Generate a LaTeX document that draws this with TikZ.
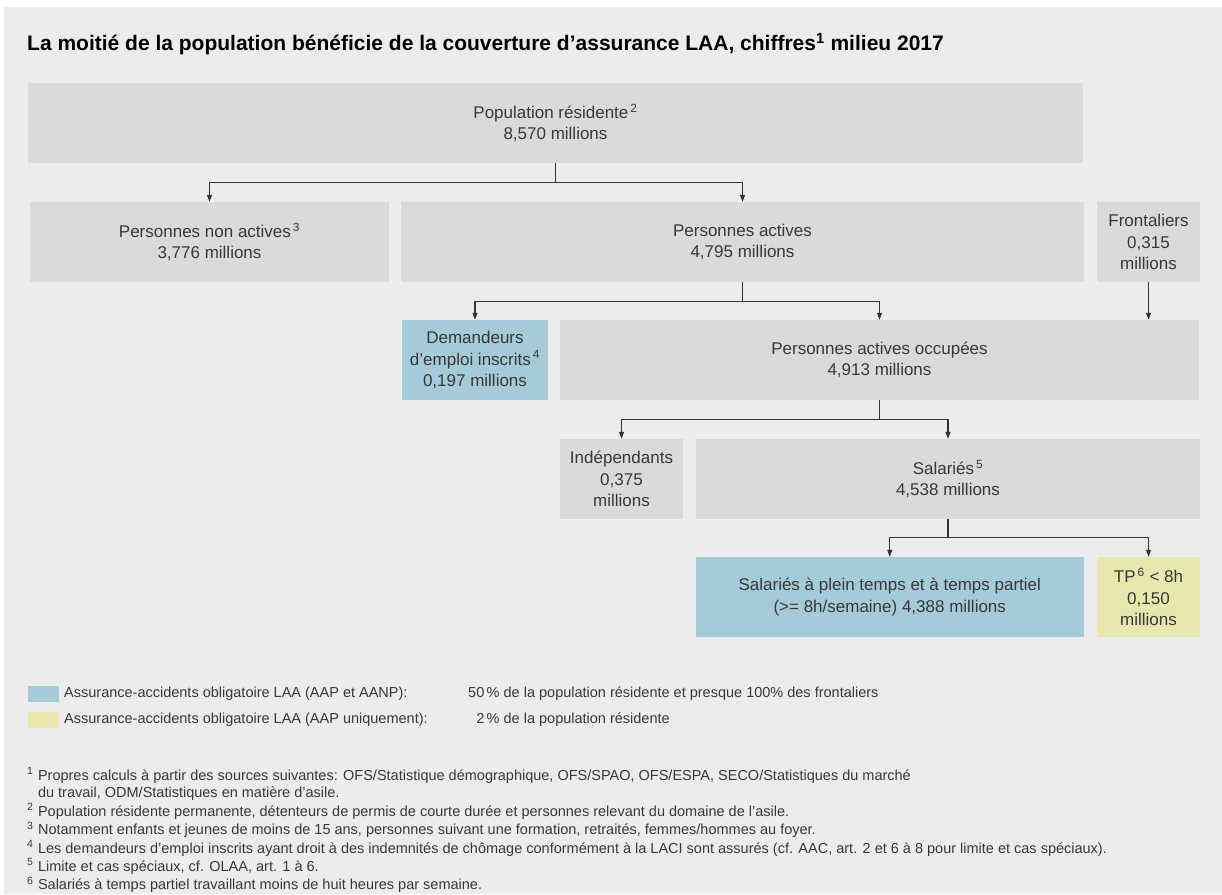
\documentclass[tikz,border=0pt]{standalone}
\usepackage{fontspec}
\setmainfont{Liberation Sans}
\usetikzlibrary{arrows.meta,positioning,calc}

\definecolor{bggrey}{HTML}{ECECEC}
\definecolor{boxgrey}{HTML}{D9DBDA}
\definecolor{boxblue}{HTML}{A5CBD8}
\definecolor{boxyellow}{HTML}{E6E8AE}
\definecolor{txtgrey}{HTML}{383838}
\definecolor{linegrey}{HTML}{333333}

\tikzset{
  box/.style={fill=boxgrey, inner sep=0pt, minimum height=80pt, align=center,
    text=txtgrey, font=\fontsize{17}{21.5}\selectfont},
  bluebox/.style={box, fill=boxblue},
  yellowbox/.style={box, fill=boxyellow},
  stem/.style={draw=linegrey, line width=1.1pt},
  conn/.style={stem, -{Triangle[length=7pt,width=5pt]}},
  legswatch/.style={inner sep=0pt, minimum width=31pt, minimum height=16pt, anchor=west},
  legtext/.style={inner sep=0pt, anchor=west, text=txtgrey, font=\fontsize{14.5}{17}\selectfont},
}
\newcommand{\fnmark}[1]{\textsuperscript{\,#1}}
\newcommand{\fnnum}[1]{\raisebox{0.4em}{\fontsize{10.5}{10.5}\selectfont #1}}

\begin{document}
\begin{tikzpicture}[x=1pt,y=-1pt]
        \useasboundingbox (0,0) rectangle (1222,894);
        \fill[white] (0,0) rectangle (1222,894);
        \fill[bggrey] (4,7) rectangle (1222,894);

        \node[anchor=west, inner sep=0pt, font=\fontsize{21}{25}\selectfont\bfseries] (title) at (27,44)
            {La moitié de la population bénéficie de la couverture d’assurance LAA, chiffres\textsuperscript{1} milieu 2017};

        % boxes
        \node[box, minimum width=1055pt] (pop) at (555.5,123) {Population résidente\fnmark{2}\\8,570 millions};
        \node[box, minimum width=359pt] (nonact) at (209.5,242) {Personnes non actives\fnmark{3}\\3,776 millions};
        \node[box, minimum width=683pt] (act) at (742.5,242) {Personnes actives\\4,795 millions};
        \node[box, minimum width=103pt] (front) at (1148.5,242) {Frontaliers\\0,315\\millions};
        \node[bluebox, minimum width=146pt] (dem) at (475,360) {Demandeurs\\d’emploi inscrits\fnmark{4}\\0,197 millions};
        \node[box, minimum width=639pt] (occ) at (879.5,360) {Personnes actives occupées\\4,913 millions};
        \node[box, minimum width=123pt] (indep) at (621.5,479) {Indépendants\\0,375\\millions};
        \node[box, minimum width=504pt] (sal) at (948,479) {Salariés\fnmark{5}\\4,538 millions};
        \node[bluebox, minimum width=387.5pt] (plein) at (889.75,597) {Salariés à plein temps et à temps partiel\\(>= 8h/semaine) 4,388 millions};
        \node[yellowbox, minimum width=103pt] (tp) at (1148.5,597) {TP\fnmark{6} < 8h\\0,150\\millions};

        % connectors
        \draw[stem] (pop.south) -- ++(0,19) coordinate (popsplit);
        \draw[conn] (popsplit) -| (nonact.north);
        \draw[conn] (popsplit) -| (act.north);
        \draw[stem] (act.south) -- ++(0,19) coordinate (actsplit);
        \draw[conn] (actsplit) -| (dem.north);
        \draw[conn] (actsplit) -| (occ.north);
        \draw[conn] (front.south) -- (front.south |- occ.north);
        \draw[stem] (occ.south) -- ++(0,19) coordinate (occsplit);
        \draw[conn] (occsplit) -| (indep.north);
        \draw[conn] (occsplit) -| (sal.north);
        \draw[stem] (sal.south) -- ++(0,18) coordinate (salsplit);
        \draw[conn] (salsplit) -| (plein.north);
        \draw[conn] (salsplit) -| (tp.north);

        % legend
        \node[legswatch, fill=boxblue] (legblue) at (28,694) {};
        \node[legtext] (legbluetxt) at (64,694) {Assurance-accidents obligatoire LAA (AAP et AANP):};
        \node[legtext] (legbluepct) at (468,694) {50\,\% de la population résidente et presque 100\% des frontaliers};
        \node[legswatch, fill=boxyellow] (legyellow) at (28,720) {};
        \node[legtext] (legyellowtxt) at (64,720) {Assurance-accidents obligatoire LAA (AAP uniquement):};
        \node[legtext] (legyellowpct) at (468,720) {\phantom{5}2\,\% de la population résidente};

        % footnotes
        \node[anchor=north west, inner sep=0pt, text=txtgrey, font=\fontsize{14.5}{17.7}\selectfont] (notes) at (27,767) {%
            \begin{tabular}{@{}r@{\hspace{5pt}}l@{}}
            \fnnum{1} & Propres calculs à partir des sources suivantes: OFS/Statistique démographique, OFS/SPAO, OFS/ESPA, SECO/Statistiques du marché\\
             & du travail, ODM/Statistiques en matière d’asile.\\
            \fnnum{2} & Population résidente permanente, détenteurs de permis de courte durée et personnes relevant du domaine de l’asile.\\
            \fnnum{3} & Notamment enfants et jeunes de moins de 15 ans, personnes suivant une formation, retraités, femmes/hommes au foyer.\\
            \fnnum{4} & Les demandeurs d’emploi inscrits ayant droit à des indemnités de chômage conformément à la LACI sont assurés (cf. AAC, art. 2 et 6 à 8 pour limite et cas spéciaux).\\
            \fnnum{5} & Limite et cas spéciaux, cf. OLAA, art. 1 à 6.\\
            \fnnum{6} & Salariés à temps partiel travaillant moins de huit heures par semaine.
            \end{tabular}};
\end{tikzpicture}
\end{document}
